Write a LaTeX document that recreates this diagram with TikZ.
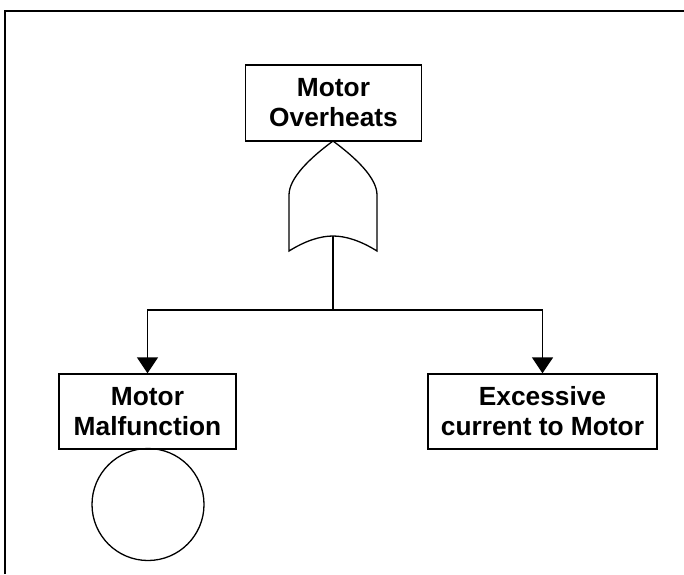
\documentclass[tikz,border=0pt]{standalone}
\usepackage{fontspec}
\setmainfont{Liberation Sans}
\usetikzlibrary{arrows.meta}
\begin{document}
\begin{tikzpicture}[x=1pt,y=-1pt,
  line width=1.4pt,
  event/.style={draw, line width=1.3pt, inner sep=0pt, align=center,
    font=\fontsize{26.3}{30}\selectfont\bfseries},
  link/.style={line width=1.4pt, -{Triangle[width=21pt,length=16pt]}}]
  \useasboundingbox (0,0) rectangle (684,574);
  % outer frame (top and left edges)
  \draw[line width=2.2pt] (5,574) -- (5,11) -- (684,11);

  % top event
  \node[event, minimum width=176pt, minimum height=76pt] (top) at (333.5,103) {Motor\\Overheats};

  % OR gate
  \draw[line width=1.3pt] (333,141)
     .. controls (310,158) and (289,178) .. (289,195) -- (289,251)
     .. controls (305,241) and (320,236) .. (333,236)
     .. controls (346,236) and (361,241) .. (377,251) -- (377,195)
     .. controls (377,178) and (356,158) .. (333,141) -- cycle;
  \coordinate (g) at (333,236);
  \coordinate (j) at (333,310);

  % lower events
  \node[event, minimum width=177pt, minimum height=75pt] (mm) at (147.5,411.5) {Motor\\Malfunction};
  \node[event, minimum width=229pt, minimum height=75pt] (ec) at (542.5,411.5) {Excessive\\current to Motor};

  % basic event marker
  \node[draw, circle, line width=1.3pt, minimum size=112pt, inner sep=0pt] (be) at (148,504.5) {};

  % connectors
  \draw (g) -- (j);
  \draw[link] (j) -| (mm.north);
  \draw[link] (j) -| (ec.north);
\end{tikzpicture}
\end{document}
